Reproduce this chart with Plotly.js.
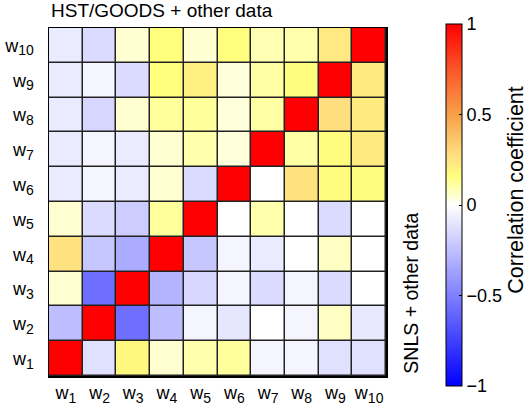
<!DOCTYPE html>
<html><head><meta charset="utf-8">
<script src="https://cdn.plot.ly/plotly-3.0.1.min.js"></script>
<style>body{margin:0;background:#fff}#chart{width:528px;height:410px}</style>
</head><body><div id="chart"></div>
<script>
const subs = ['1','2','3','4','5','6','7','8','9','10'];
const labels = subs.map(s => 'w<sub><span style="font-size:14px">' + s + '</span></sub>');
// rows: correlation of w_row with w_1..w_10 (upper-left: HST/GOODS, lower-right: SNLS)
const row_w1  = [1, -0.12, 0.18, 0.05, 0.10, 0.12, -0.04, -0.04, -0.12, -0.12];
const row_w2  = [-0.26, 1, -0.57, -0.26, -0.04, -0.10, 0, -0.04, 0.07, -0.09];
const row_w3  = [0.05, -0.57, 1, -0.30, -0.16, -0.04, -0.14, -0.04, -0.14, 0];
const row_w4  = [0.26, -0.22, -0.33, 1, -0.22, -0.04, -0.08, 0, 0.07, 0];
const row_w5  = [0.05, -0.14, -0.20, 0.12, 1, 0, 0.10, 0, -0.14, 0];
const row_w6  = [-0.08, -0.04, -0.08, 0.05, -0.14, 1, 0, 0.26, 0.17, 0.17];
const row_w7  = [-0.08, -0.04, -0.08, 0.05, 0.10, 0.04, 1, 0.11, 0.17, 0.22];
const row_w8  = [-0.08, -0.16, 0.05, 0.12, 0.12, 0.04, 0.11, 1, 0.28, 0.22];
const row_w9  = [-0.08, -0.04, -0.14, 0.16, 0.21, 0.04, 0.11, 0.17, 1, 0.22];
const row_w10 = [-0.08, -0.14, 0.05, 0.16, 0.05, 0.16, 0.09, 0.10, 0.23, 1];
const cbTicks = [-1, -0.5, 0, 0.5, 1];
const cbTickText = ['\u22121', '\u22120.5', '0', '0.5', '1'];

const z = [row_w1,row_w2,row_w3,row_w4,row_w5,row_w6,row_w7,row_w8,row_w9,row_w10];
const colorscale = [
  [0, 'rgb(0,0,255)'],
  [0.5, 'rgb(255,255,255)'],
  [0.525, 'rgb(255,255,210)'],
  [0.55, 'rgb(255,255,172)'],
  [0.58, 'rgb(255,255,125)'],
  [0.61, 'rgb(255,235,128)'],
  [0.64, 'rgb(255,222,128)'],
  [0.75, 'rgb(248,160,72)'],
  [0.875, 'rgb(250,85,40)'],
  [1, 'rgb(255,0,0)']
];
const fam = 'Liberation Sans, Arial, sans-serif';
const f = s => ({family: fam, size: s, color: '#000'});
const L = 49, T = 28, W = 348, H = 348;
const px = x => (x - L) / W, py = y => (T + H - y) / H;
const trace = {
  type: 'heatmap', x: labels, y: labels, z: z,
  zmin: -1, zmax: 1, colorscale: colorscale,
  xgap: 1.5, ygap: 1.5,
  hoverinfo: 'skip',
  colorbar: {
    x: px(449), xanchor: 'left', xref: 'paper',
    y: py(205), yanchor: 'middle',
    thickness: 16, thicknessmode: 'pixels',
    len: 382, lenmode: 'pixels',
    outlinewidth: 1, outlinecolor: '#000',
    tickvals: cbTicks, ticktext: cbTickText,
    ticks: 'inside', ticklen: 3, tickcolor: '#000',
    tickfont: f(18)
  }
};
const layout = {
  width: 528, height: 410,
  margin: {l: L, r: 528 - L - W, t: T, b: 410 - T - H, pad: 0},
  paper_bgcolor: '#fff', plot_bgcolor: '#222',
  font: f(18),
  xaxis: {type: 'category', showgrid: false, zeroline: false, showline: true, mirror: true,
          linecolor: '#000', linewidth: 1.5, ticks: '', tickfont: f(18), ticklabelstandoff: 0, fixedrange: true},
  yaxis: {type: 'category', showgrid: false, zeroline: false, showline: true, mirror: true,
          linecolor: '#000', linewidth: 1.5, ticks: '', tickfont: f(18), ticklabelstandoff: 10, fixedrange: true},
  annotations: [
    {text: 'HST/GOODS + other data', showarrow: false, xref: 'paper', yref: 'paper',
     x: px(49), y: py(11), xanchor: 'left', yanchor: 'middle', font: f(19)},
    {text: 'SNLS + other data', textangle: -90, showarrow: false,
     xref: 'paper', yref: 'paper', x: px(422), y: py(376), xanchor: 'center', yanchor: 'bottom', font: f(19.5)},
    {text: 'Correlation coefficient', textangle: -90, showarrow: false,
     xref: 'paper', yref: 'paper', x: px(531), y: py(190), xanchor: 'center', yanchor: 'middle', font: f(21.5)}
  ]
};
Plotly.newPlot('chart', [trace], layout, {displayModeBar: false, staticPlot: true});
</script></body></html>
